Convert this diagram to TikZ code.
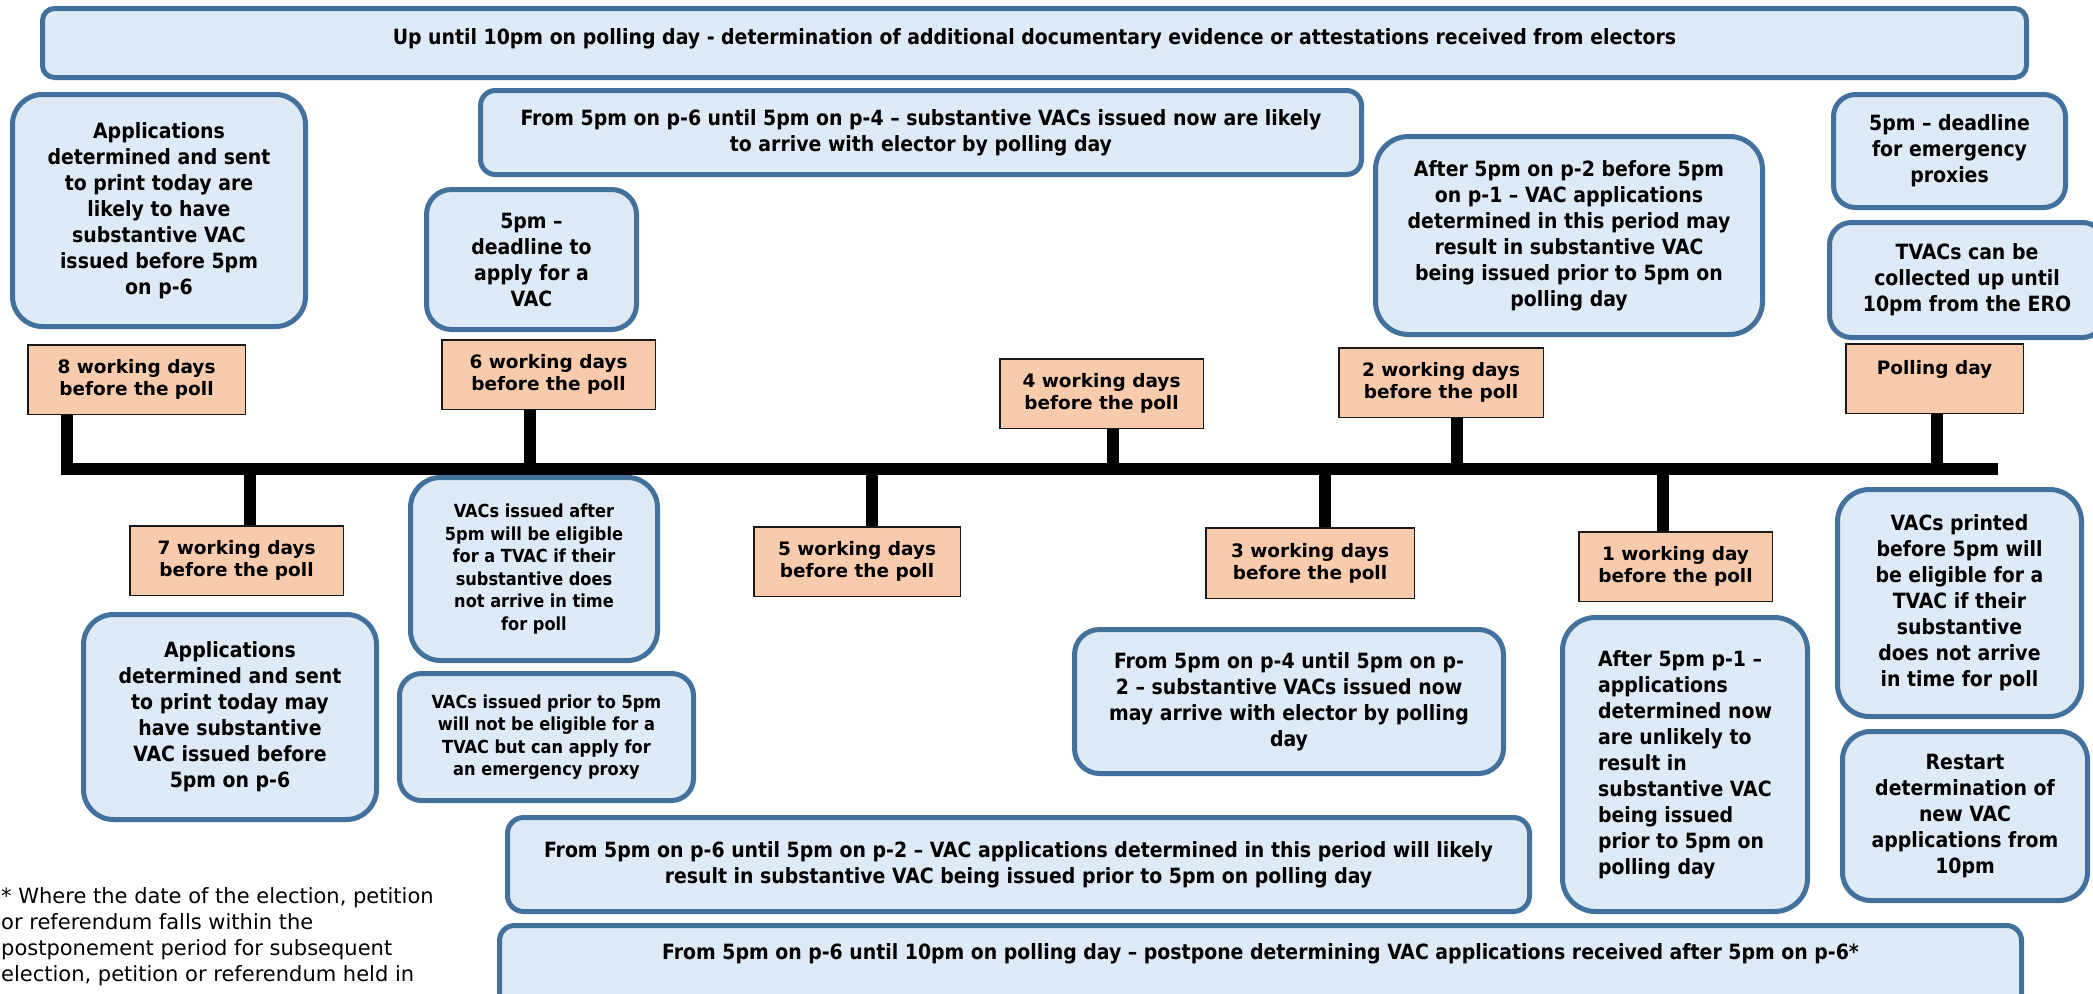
\documentclass[tikz,border=0pt]{standalone}
\usepackage{fontspec}
\setmainfont{DejaVu Sans}
\newfontfamily\cbold{DejaVu Sans Condensed Bold}
\newfontfamily\lblfont{DejaVu Sans Bold}
\definecolor{bxline}{HTML}{41719C}
\definecolor{bxfill}{HTML}{DEEAF6}
\definecolor{lblfill}{HTML}{F8CBAD}
\begin{document}
\begin{tikzpicture}[x=1pt,y=-1pt,
  bbox/.style={draw=bxline, fill=bxfill, line width=5pt, rounded corners=#1,
    align=center, inner sep=2pt, text=black,
    font=\cbold\fontsize{21}{26}\selectfont},
  smalltext/.style={font=\cbold\fontsize{18}{22.6}\selectfont},
  obox/.style={draw=black!90, fill=lblfill, line width=1.5pt, align=center,
    inner sep=2pt, minimum height=69.5pt,
    font=\lblfont\fontsize{18.5}{22}\selectfont},
  bar/.style={line width=12pt, line cap=butt, line join=miter},
  stem/.style={line width=12pt, line cap=butt}]
\useasboundingbox (0,0) rectangle (2093,993);
\clip (0,0) rectangle (2093,993);

% ---------- blue information boxes ----------
\node[bbox=12pt, minimum width=1984pt, minimum height=69pt] (evidence) at (1034.5,43)
  {\raisebox{4.5pt}[\height][\depth]{Up until 10pm on polling day - determination of additional documentary evidence or attestations received from electors}};

\node[bbox=30pt, minimum width=293pt, minimum height=232pt] (likely) at (159,210.5)
  {Applications\\determined and sent\\to print today are\\likely to have\\substantive VAC\\issued before 5pm\\on p-6};

\node[bbox=15pt, minimum width=881pt, minimum height=84pt] (psixfour) at (921,132.5)
  {From 5pm on p-6 until 5pm on p-4 – substantive VACs issued now are likely\\to arrive with elector by polling day};

\node[bbox=25pt, minimum width=210pt, minimum height=140pt] (deadline) at (531.5,259.5)
  {5pm –\\deadline to\\apply for a\\VAC};

\node[bbox=33pt, minimum width=387pt, minimum height=198pt] (ptwoone) at (1569,235.5)
  {After 5pm on p-2 before 5pm\\on p-1 – VAC applications\\determined in this period may\\result in substantive VAC\\being issued prior to 5pm on\\polling day};

\node[bbox=22pt, minimum width=232pt, minimum height=113pt] (emerg) at (1949.5,151)
  {5pm – deadline\\for emergency\\proxies};

\node[bbox=22pt, minimum width=275pt, minimum height=115pt] (tvac) at (1967,280)
  {TVACs can be\\collected up until\\10pm from the ERO};

\node[bbox=30pt, smalltext, minimum width=247pt, minimum height=183pt] (vacafter) at (534,569)
  {VACs issued after\\5pm will be eligible\\for a TVAC if their\\substantive does\\not arrive in time\\for poll};

\node[bbox=22pt, smalltext, minimum width=294pt, minimum height=127pt] (vacprior) at (546.5,737)
  {VACs issued prior to 5pm\\will not be eligible for a\\TVAC but can apply for\\an emergency proxy};

\node[bbox=30pt, minimum width=293pt, minimum height=205pt] (may) at (230,717)
  {Applications\\determined and sent\\to print today may\\have substantive\\VAC issued before\\5pm on p-6};

\node[bbox=25pt, minimum width=429pt, minimum height=144pt] (pfourtwo) at (1289,701.5)
  {From 5pm on p-4 until 5pm on p-\\2 – substantive VACs issued now\\may arrive with elector by polling\\day};

\node[bbox=33pt, align=left, minimum width=245pt, minimum height=294pt] (pone) at (1685,764.5)
  {After 5pm p-1 –\\applications\\determined now\\are unlikely to\\result in\\substantive VAC\\being issued\\prior to 5pm on\\polling day};

\node[bbox=32pt, minimum width=244pt, minimum height=227pt] (printed) at (1959.5,603)
  {VACs printed\\before 5pm will\\be eligible for a\\TVAC if their\\substantive\\does not arrive\\in time for poll};

\node[bbox=28pt, minimum width=245pt, minimum height=169pt] (restart) at (1965,816)
  {Restart\\determination of\\new VAC\\applications from\\10pm};

\node[bbox=16pt, minimum width=1022pt, minimum height=94pt] (psixtwo) at (1018.5,864.5)
  {From 5pm on p-6 until 5pm on p-2 – VAC applications determined in this period will likely\\result in substantive VAC being issued prior to 5pm on polling day};

\node[bbox=15pt, minimum width=1522pt, minimum height=85pt] (postpone) at (1260.5,968)
  {\raisebox{14pt}[\height][\depth]{From 5pm on p-6 until 10pm on polling day – postpone determining VAC applications received after 5pm on p-6*}};

% ---------- day labels ----------
\node[obox, minimum width=217.5pt] (d8) at (136.5,379.5) {8 working days\\before the poll};
\node[obox, minimum width=213.5pt] (d6) at (548.5,374.5) {6 working days\\before the poll};
\node[obox, minimum width=203.5pt] (d4) at (1101.5,393.5) {4 working days\\before the poll};
\node[obox, minimum width=204.5pt] (d2) at (1441,382.5) {2 working days\\before the poll};
\node[obox, minimum width=177.5pt] (dpoll) at (1934.5,378.5) {Polling day\\\mbox{}};
\node[obox, minimum width=213.5pt] (d7) at (236.5,560.5) {7 working days\\before the poll};
\node[obox, minimum width=206.5pt] (d5) at (857,561.5) {5 working days\\before the poll};
\node[obox, minimum width=208.5pt, minimum height=70.5pt] (d3) at (1310,563) {3 working days\\before the poll};
\node[obox, minimum width=193.5pt] (d1) at (1675.5,566.5) {1 working day\\before the poll};

% ---------- timeline ----------
\coordinate (tlL) at (67,469);
\coordinate (tlR) at (1998,469);
\coordinate (t6) at (530,469);
\coordinate (t4) at (1113,469);
\coordinate (t2) at (1457,469);
\coordinate (tp) at (1937,469);
\coordinate (t7) at (250,469);
\coordinate (t5) at (872,469);
\coordinate (t3) at (1325,469);
\coordinate (t1) at (1663,469);

\draw[bar] (d8.south -| tlL) -- (tlL) -- (tlR);
% stems up to the labels above the line
\foreach \t/\d in {t6/d6, t4/d4, t2/d2, tp/dpoll}
  \draw[stem] (\t) -- (\t |- \d.south);
% stems down to the labels below the line
\foreach \t/\d in {t7/d7, t5/d5, t3/d3, t1/d1}
  \draw[stem] (\t) -- (\t |- \d.north);

% ---------- footnote ----------
\node[anchor=north west, inner sep=0pt, align=left,
  font=\fontsize{21}{26}\selectfont] (note) at (1,887)
  {* Where the date of the election, petition\\or referendum falls within the\\postponement period for subsequent\\election, petition or referendum held in};
\end{tikzpicture}
\end{document}
